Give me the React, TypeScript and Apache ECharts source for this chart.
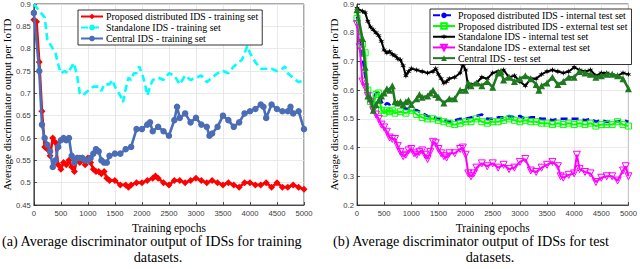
import React, { useEffect, useRef } from "react";
import * as echarts from "echarts";

type P = [number, number];

// ---- (a) training datasets ----
const trainProposed: P[] = [[0,0.865],[50,0.86],[100,0.77],[150,0.66],[200,0.58],[250,0.575],[300,0.56],[350,0.6],[400,0.59],[450,0.54],[500,0.53],[550,0.545],[600,0.54],[650,0.55],[700,0.535],[750,0.525],[800,0.555],[850,0.545],[900,0.555],[950,0.54],[1000,0.555],[1050,0.545],[1100,0.53],[1150,0.525],[1200,0.525],[1250,0.52],[1300,0.525],[1350,0.51],[1400,0.505],[1500,0.505],[1600,0.495],[1700,0.495],[1750,0.49],[1800,0.495],[1900,0.5],[2000,0.5],[2100,0.505],[2200,0.51],[2250,0.515],[2300,0.51],[2400,0.5],[2500,0.495],[2600,0.505],[2700,0.505],[2800,0.5],[2900,0.505],[3000,0.51],[3100,0.505],[3200,0.5],[3300,0.505],[3400,0.5],[3500,0.495],[3600,0.5],[3700,0.495],[3800,0.49],[3900,0.5],[4000,0.5],[4100,0.495],[4200,0.495],[4300,0.5],[4400,0.49],[4500,0.5],[4600,0.49],[4700,0.49],[4800,0.495],[4900,0.49],[5000,0.485]];

const trainStandalone: P[] = [[0,0.9],[100,0.885],[200,0.87],[250,0.82],[300,0.81],[350,0.8],[400,0.79],[450,0.765],[500,0.745],[570,0.75],[630,0.745],[700,0.76],[740,0.768],[800,0.74],[850,0.7],[900,0.695],[1000,0.705],[1100,0.715],[1200,0.715],[1250,0.705],[1300,0.72],[1400,0.72],[1450,0.73],[1500,0.715],[1600,0.695],[1650,0.68],[1700,0.71],[1750,0.735],[1800,0.73],[1850,0.745],[1900,0.745],[1950,0.76],[2000,0.745],[2050,0.725],[2100,0.695],[2150,0.715],[2200,0.73],[2300,0.735],[2400,0.73],[2500,0.745],[2600,0.74],[2700,0.72],[2800,0.74],[2900,0.73],[3000,0.735],[3100,0.74],[3200,0.725],[3300,0.735],[3400,0.745],[3500,0.75],[3600,0.745],[3700,0.76],[3800,0.77],[3850,0.775],[3900,0.79],[3950,0.806],[4000,0.79],[4100,0.77],[4200,0.755],[4300,0.755],[4400,0.755],[4500,0.75],[4600,0.755],[4650,0.76],[4700,0.745],[4800,0.735],[4900,0.725],[5000,0.73]];

const trainCentral: P[] = [[0,0.88],[100,0.75],[150,0.63],[200,0.6],[250,0.585],[300,0.57],[350,0.535],[400,0.55],[450,0.58],[500,0.595],[550,0.6],[600,0.595],[650,0.6],[700,0.56],[750,0.545],[800,0.555],[850,0.555],[900,0.555],[950,0.55],[1000,0.55],[1050,0.555],[1100,0.565],[1150,0.575],[1200,0.57],[1250,0.55],[1300,0.545],[1350,0.545],[1400,0.56],[1500,0.565],[1600,0.565],[1700,0.575],[1800,0.58],[1900,0.62],[2000,0.62],[2100,0.63],[2150,0.635],[2200,0.615],[2300,0.625],[2400,0.615],[2500,0.605],[2600,0.64],[2650,0.67],[2700,0.645],[2800,0.655],[2900,0.635],[3000,0.645],[3100,0.63],[3200,0.625],[3250,0.605],[3300,0.61],[3400,0.625],[3500,0.65],[3600,0.64],[3700,0.625],[3800,0.635],[3900,0.655],[4000,0.66],[4100,0.665],[4200,0.675],[4250,0.67],[4300,0.645],[4400,0.675],[4500,0.665],[4600,0.66],[4700,0.66],[4750,0.67],[4800,0.655],[4900,0.66],[5000,0.62]];

// ---- (b) test datasets ----
const testProposedInternal: P[] = [[0,0.855],[100,0.72],[150,0.65],[200,0.6],[250,0.57],[300,0.57],[350,0.59],[400,0.59],[450,0.56],[500,0.545],[550,0.555],[600,0.55],[650,0.56],[700,0.555],[800,0.545],[900,0.535],[1000,0.535],[1100,0.53],[1200,0.52],[1300,0.51],[1400,0.505],[1500,0.5],[1600,0.495],[1700,0.49],[1800,0.495],[1900,0.5],[2000,0.5],[2100,0.505],[2200,0.51],[2300,0.515],[2400,0.5],[2500,0.5],[2600,0.505],[2700,0.505],[2800,0.51],[2900,0.505],[3000,0.51],[3100,0.5],[3200,0.505],[3300,0.505],[3400,0.5],[3500,0.5],[3600,0.495],[3700,0.5],[3800,0.5],[3900,0.5],[4000,0.5],[4100,0.5],[4200,0.495],[4300,0.5],[4400,0.49],[4500,0.495],[4600,0.49],[4700,0.49],[4800,0.49],[4900,0.495],[5000,0.49]];

const testProposedExternal: P[] = [[0,0.85],[100,0.76],[150,0.73],[200,0.6],[250,0.56],[300,0.545],[350,0.585],[400,0.59],[450,0.53],[500,0.52],[550,0.53],[600,0.525],[650,0.53],[700,0.52],[800,0.525],[900,0.52],[1000,0.53],[1100,0.515],[1200,0.505],[1300,0.5],[1400,0.5],[1500,0.495],[1600,0.49],[1700,0.485],[1800,0.48],[1900,0.485],[2000,0.49],[2100,0.49],[2200,0.5],[2300,0.49],[2400,0.485],[2500,0.49],[2600,0.49],[2700,0.495],[2800,0.5],[2900,0.495],[3000,0.49],[3100,0.495],[3200,0.49],[3300,0.49],[3400,0.485],[3500,0.485],[3600,0.48],[3700,0.485],[3800,0.48],[3900,0.485],[4000,0.48],[4100,0.485],[4200,0.48],[4300,0.485],[4400,0.475],[4500,0.48],[4600,0.48],[4700,0.48],[4800,0.49],[4900,0.48],[5000,0.475]];

const testStandaloneInternal: P[] = [[0,0.885],[100,0.875],[150,0.87],[200,0.84],[250,0.82],[300,0.81],[350,0.8],[400,0.79],[450,0.77],[500,0.74],[550,0.73],[600,0.735],[650,0.725],[700,0.72],[750,0.71],[800,0.705],[850,0.685],[900,0.65],[950,0.665],[1000,0.675],[1100,0.67],[1200,0.665],[1300,0.66],[1400,0.665],[1450,0.675],[1500,0.655],[1550,0.64],[1600,0.625],[1650,0.63],[1700,0.64],[1800,0.645],[1900,0.66],[1950,0.69],[2000,0.67],[2050,0.61],[2100,0.62],[2200,0.625],[2300,0.645],[2400,0.64],[2500,0.66],[2600,0.665],[2700,0.67],[2800,0.645],[2900,0.65],[3000,0.63],[3100,0.615],[3200,0.64],[3300,0.64],[3400,0.655],[3500,0.665],[3600,0.67],[3700,0.665],[3800,0.66],[3900,0.665],[4000,0.68],[4100,0.67],[4200,0.665],[4300,0.67],[4400,0.65],[4500,0.66],[4600,0.66],[4700,0.655],[4800,0.65],[4900,0.66],[5000,0.655]];

const testStandaloneExternal: P[] = [[0,0.83],[50,0.75],[100,0.63],[150,0.61],[200,0.58],[250,0.56],[300,0.53],[350,0.515],[400,0.5],[450,0.48],[500,0.47],[550,0.455],[600,0.435],[650,0.43],[700,0.43],[750,0.405],[800,0.385],[850,0.37],[900,0.375],[950,0.39],[1000,0.395],[1050,0.38],[1100,0.375],[1150,0.385],[1200,0.39],[1250,0.375],[1300,0.36],[1350,0.385],[1400,0.42],[1450,0.415],[1500,0.395],[1550,0.38],[1600,0.37],[1650,0.365],[1700,0.38],[1800,0.38],[1900,0.395],[1950,0.4],[2000,0.375],[2050,0.31],[2100,0.3],[2150,0.31],[2200,0.33],[2300,0.345],[2400,0.335],[2500,0.345],[2600,0.33],[2700,0.34],[2800,0.325],[2900,0.33],[3000,0.35],[3100,0.36],[3200,0.32],[3300,0.315],[3400,0.33],[3500,0.34],[3600,0.35],[3700,0.335],[3750,0.3],[3800,0.295],[3900,0.305],[4000,0.31],[4050,0.375],[4100,0.325],[4200,0.315],[4300,0.31],[4400,0.28],[4500,0.295],[4600,0.3],[4700,0.3],[4800,0.285],[4900,0.32],[4950,0.335],[5000,0.3]];

const testCentral: P[] = [[0,0.88],[100,0.78],[150,0.68],[200,0.58],[250,0.57],[300,0.53],[350,0.55],[400,0.565],[450,0.58],[500,0.59],[550,0.605],[600,0.6],[650,0.615],[700,0.56],[750,0.555],[800,0.56],[850,0.55],[900,0.56],[950,0.565],[1000,0.55],[1100,0.57],[1150,0.585],[1200,0.575],[1300,0.58],[1350,0.59],[1400,0.6],[1450,0.585],[1500,0.575],[1600,0.555],[1700,0.57],[1800,0.57],[1900,0.6],[2000,0.6],[2050,0.625],[2100,0.615],[2200,0.625],[2300,0.615],[2400,0.63],[2500,0.61],[2600,0.66],[2650,0.665],[2700,0.635],[2800,0.645],[2900,0.63],[3000,0.64],[3100,0.65],[3200,0.64],[3300,0.62],[3350,0.6],[3400,0.615],[3500,0.625],[3600,0.645],[3700,0.62],[3800,0.63],[3900,0.645],[4000,0.645],[4100,0.665],[4200,0.66],[4300,0.655],[4400,0.645],[4500,0.65],[4600,0.655],[4700,0.655],[4800,0.65],[4900,0.64],[5000,0.605]];

const xLabel = "Training epochs";
const yLabel = "Average discriminator output per IoTD";
const captionA = ["(a) Average discriminator output of IDSs for training", "datasets."];
const captionB = ["(b) Average discriminator output of IDSs for test", "datasets."];

const SERIF = "Liberation Serif, serif";
const SANS = "Liberation Sans, sans-serif";
const STAR = "path://M0,-10L2.2,-3.2L9.5,-5L4,0L9.5,5L2.2,3.2L0,10L-2.2,3.2L-9.5,5L-4,0L-9.5,-5L-2.2,-3.2Z";

function xAxis(gridIndex: number) {
  return {
    type: "value", gridIndex, min: 0, max: 5000, interval: 500,
    name: xLabel, nameLocation: "middle", nameGap: 12,
    nameTextStyle: { fontFamily: SERIF, fontSize: 11.5, color: "#000" },
    axisLine: { show: true, onZero: false, lineStyle: { color: "#262626", width: 0.8 } },
    axisTick: { show: true, inside: true, length: 3, lineStyle: { color: "#262626", width: 0.8 } },
    axisLabel: { fontFamily: SANS, fontSize: 7.7, color: "#404040", margin: 4,
      formatter: (v: number) => String(v) },
    splitLine: { show: true, lineStyle: { color: "#e3e3e3", width: 0.8 } },
  };
}
function yAxis(gridIndex: number, min: number, max: number, interval: number, gap: number) {
  return {
    type: "value", gridIndex, min, max, interval,
    name: yLabel, nameLocation: "middle", nameGap: gap,
    nameTextStyle: { fontFamily: SERIF, fontSize: 11, color: "#000" },
    axisLine: { show: true, lineStyle: { color: "#262626", width: 0.8 } },
    axisTick: { show: true, inside: true, length: 3, lineStyle: { color: "#262626", width: 0.8 } },
    axisLabel: { fontFamily: SANS, fontSize: 7.7, color: "#404040", margin: 3,
      formatter: (v: number) => String(parseFloat(v.toFixed(2))) },
    splitLine: { show: true, lineStyle: { color: "#e3e3e3", width: 0.8 } },
  };
}

function line(name: string, data: P[], idx: number, color: string, opts: any = {}) {
  return {
    type: "line", name, data, xAxisIndex: idx, yAxisIndex: idx,
    color,
    lineStyle: { color, width: opts.width ?? 2, type: opts.dash ?? "solid" },
    symbol: opts.symbol ?? "none",
    symbolSize: opts.size ?? 5,
    symbolRotate: opts.rotate ?? 0,
    showSymbol: !!opts.symbol,
    itemStyle: opts.hollow
      ? { color: "rgba(255,255,255,0)", borderColor: color, borderWidth: 1 }
      : { color },
    emphasis: { disabled: true },
    z: opts.z ?? 2,
  };
}

const legendBase = {
  orient: "vertical",
  itemWidth: 22, itemHeight: 7, itemGap: 0,
  textStyle: { fontFamily: SERIF, fontSize: 9.9, lineHeight: 11, color: "#000", padding: [0, 0, 0, -2] },
  borderColor: "#000", borderWidth: 0.8, backgroundColor: "#fff",
  padding: [1, 4, 1, 2],
  selectedMode: false,
  inactiveColor: "#000",
};

export default function App() {
  const ref = useRef<HTMLDivElement>(null);
  useEffect(() => {
    const chart = echarts.init(ref.current!, null, { renderer: "svg" });
    const capStyle = { fontFamily: SERIF, fontSize: 14.2, fill: "#000" };
    chart.setOption({
      animation: false,
      backgroundColor: "#fff",
      grid: [
        { left: 32, top: 3, width: 272, height: 202, show: true, borderColor: "#262626", borderWidth: 0.8, backgroundColor: "transparent" },
        { left: 357, top: 3, width: 276, height: 202, show: true, borderColor: "#262626", borderWidth: 0.8, backgroundColor: "transparent" },
      ],
      xAxis: [xAxis(0), xAxis(1)],
      yAxis: [yAxis(0, 0.45, 0.9, 0.05, 19), yAxis(1, 0.2, 0.9, 0.1, 16)],
      legend: [
        { ...legendBase, left: 78, top: 10,
          data: ["Proposed distributed IDS - training set", "Standalone IDS - training set", "Central IDS - training set"] },
        { ...legendBase, left: 430, top: 9,
          textStyle: { ...legendBase.textStyle, lineHeight: 10.7 },
          data: ["Proposed distributed IDS - internal test set", "Proposed distributed IDS - external test set",
            "Standalone IDS - internal test set", "Standalone IDS - external test set", "Central IDS - test set"] },
      ],
      series: [
        line("Proposed distributed IDS - training set", trainProposed, 0, "#ff0000", { symbol: "diamond", size: 7, width: 2.6 }),
        line("Standalone IDS - training set", trainStandalone, 0, "#00ffff", { dash: [7, 4], width: 2.6 }),
        line("Central IDS - training set", trainCentral, 0, "#4a6db5", { symbol: "circle", size: 6.5, width: 2.6, z: 3 }),
        line("Proposed distributed IDS - internal test set", testProposedInternal, 1, "#0000ff", { dash: [7, 4], width: 2.6 }),
        line("Proposed distributed IDS - external test set", testProposedExternal, 1, "#00ff00", { symbol: "rect", size: 6, hollow: true, width: 2 }),
        line("Standalone IDS - internal test set", testStandaloneInternal, 1, "#000000", { symbol: STAR, size: 6, width: 2 }),
        line("Standalone IDS - external test set", testStandaloneExternal, 1, "#ff00ff", { symbol: "triangle", rotate: 180, size: 7, hollow: true, width: 2 }),
        line("Central IDS - test set", testCentral, 1, "#1f7a1f", { symbol: "triangle", size: 7, width: 2.5, z: 3 }),
      ],
      graphic: [
        { type: "text", x: 2, y: 241, style: { ...capStyle, text: captionA[0], verticalAlign: "middle" } },
        { type: "text", x: 158, y: 257, style: { ...capStyle, text: captionA[1], textAlign: "center", verticalAlign: "middle" } },
        { type: "text", x: 333, y: 241, style: { ...capStyle, text: captionB[0], verticalAlign: "middle" } },
        { type: "text", x: 490, y: 257, style: { ...capStyle, text: captionB[1], textAlign: "center", verticalAlign: "middle" } },
      ],
    });
    return () => chart.dispose();
  }, []);
  return <div ref={ref} style={{ position: "fixed", left: 0, top: 0, width: 640, height: 269 }} />;
}
